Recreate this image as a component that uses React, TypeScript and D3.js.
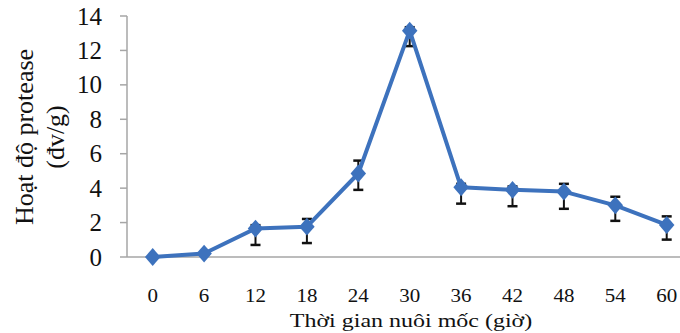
import * as d3 from "d3";

// thời gian nuôi mốc (giờ) và hoạt độ protease (đv/g)
const hours = ["0", "6", "12", "18", "24", "30", "36", "42", "48", "54", "60"];
const activity = [0, 0.2, 1.65, 1.76, 4.85, 13.15, 4.05, 3.9, 3.8, 3.0, 1.86];
const errUp = [0, 0, 0.2, 0.45, 0.75, 0.2, 0.2, 0.2, 0.45, 0.5, 0.5];
const errDown = [0, 0, 0.95, 0.95, 0.95, 0.9, 0.95, 0.95, 1.0, 0.9, 0.85];
const yTicks = [0, 2, 4, 6, 8, 10, 12, 14];

const W = 680;
const H = 333;
const left = 127;
const top = 16;
const bottom = 257;
const blue = "#3d72bd";

export default function App() {
  const x = d3.scaleBand().domain(hours).range([left, left + 11 * 51.4]).padding(0);
  const y = d3.scaleLinear().domain([0, 14]).range([bottom, top]);
  const cx = (h: string) => (x(h) as number) + x.bandwidth() / 2;

  const line = d3
    .line<number>()
    .x((d, i) => cx(hours[i]))
    .y((d) => y(d));

  const diamond = d3.symbol(d3.symbolSquare, 120)();

  return (
    <div style={{ position: "fixed", left: 0, top: 0 }}>
      <svg width={W} height={H} style={{ display: "block", background: "#fff" }}
        fontFamily="'Liberation Serif', 'Times New Roman', serif">
        {/* axes */}
        <line x1={left} x2={left} y1={top} y2={bottom} stroke="#a6a6a6" strokeWidth={1.5} />
        <line x1={left} x2={W} y1={bottom} y2={bottom} stroke="#a6a6a6" strokeWidth={1.5} />
        {yTicks.map((t) => (
          <g key={t}>
            <line x1={left - 7} x2={left} y1={y(t)} y2={y(t)} stroke="#a6a6a6" strokeWidth={1.5} />
            <text x={left - 25} y={y(t)} dy="0.34em" textAnchor="end" fontSize={25} fill="#111">
              {t}
            </text>
          </g>
        ))}
        {hours.map((h) => (
          <text key={h} transform={`translate(${cx(h)},302) scale(1,0.85)`} textAnchor="middle" fontSize={21} fill="#111">
            {h}
          </text>
        ))}

        {/* error bars */}
        {activity.map((v, i) => {
          if (!errUp[i] && !errDown[i]) return null;
          const px = cx(hours[i]);
          const y1 = y(v + errUp[i]);
          const y2 = y(v - errDown[i]);
          return (
            <g key={i} stroke="#111">
              <line x1={px} x2={px} y1={y1} y2={y2} strokeWidth={2} />
              <line x1={px - 5} x2={px + 5} y1={y1} y2={y1} strokeWidth={2.5} />
              <line x1={px - 5} x2={px + 5} y1={y2} y2={y2} strokeWidth={2.5} />
            </g>
          );
        })}

        <path d={line(activity) as string} fill="none" stroke={blue} strokeWidth={4} strokeLinejoin="round" />
        {activity.map((v, i) => (
          <path
            key={i}
            d={diamond as string}
            fill={blue}
            transform={`translate(${cx(hours[i])},${y(v)}) scale(1,1.15) rotate(45)`}
          />
        ))}

        {/* titles */}
        <text transform="translate(411,327) scale(1,0.8)" textAnchor="middle" fontSize={24} fill="#111">
          Thời gian nuôi mốc (giờ)
        </text>
        <text transform="translate(33,137) rotate(-90)" textAnchor="middle" fontSize={26} fill="#111">
          Hoạt độ protease
        </text>
        <text transform="translate(64,137) rotate(-90)" textAnchor="middle" fontSize={26} fill="#111">
          (đv/g)
        </text>
      </svg>
    </div>
  );
}
